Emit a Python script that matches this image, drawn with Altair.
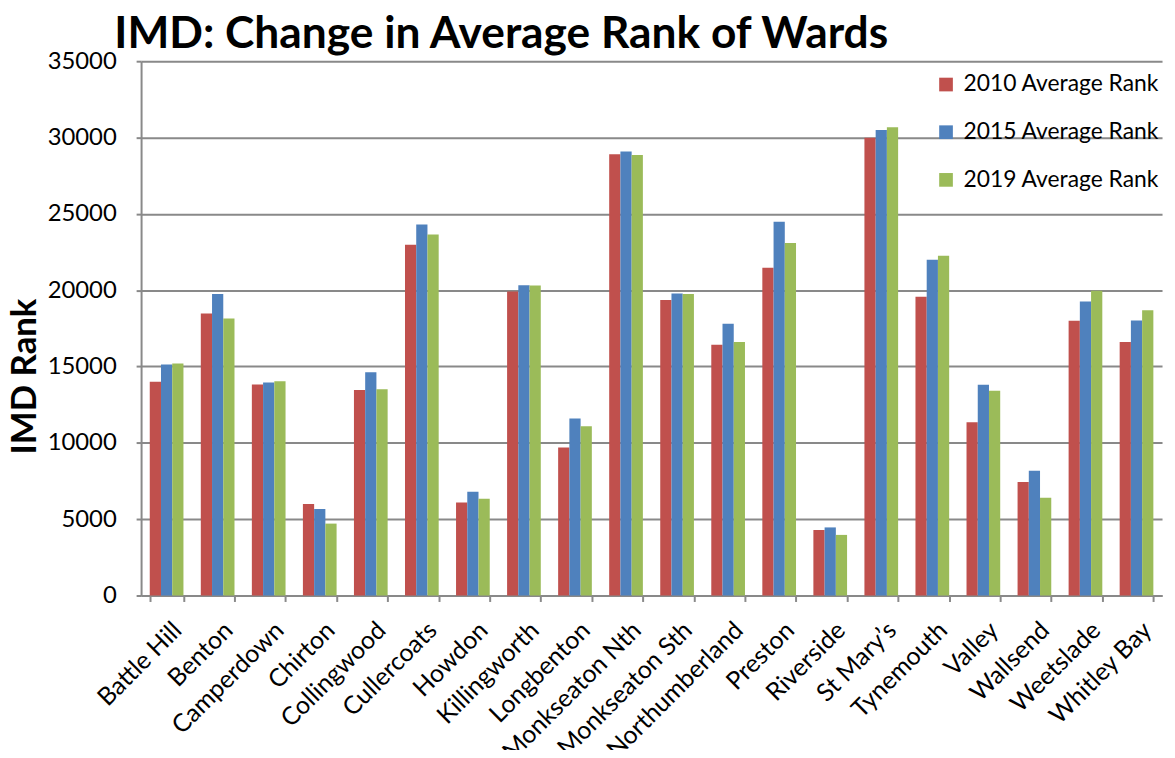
import altair as alt
import pandas as pd

wards = ["Battle Hill", "Benton", "Camperdown", "Chirton", "Collingwood", "Cullercoats",
         "Howdon", "Killingworth", "Longbenton", "Monkseaton Nth", "Monkseaton Sth",
         "Northumberland", "Preston", "Riverside", "St Mary\u2019s", "Tynemouth", "Valley",
         "Wallsend", "Weetslade", "Whitley Bay"]
rank_2010 = [14000, 18480, 13830, 5990, 13460, 22980, 6100, 19910, 9700, 28900,
             19360, 16430, 21470, 4290, 29990, 19570, 11350, 7430, 17990, 16600]
rank_2015 = [15130, 19750, 13950, 5660, 14620, 24300, 6800, 20330, 11600, 29080,
             19780, 17800, 24490, 4460, 30500, 22000, 13810, 8170, 19260, 18010]
rank_2019 = [15200, 18150, 14040, 4710, 13510, 23650, 6340, 20310, 11090, 28850,
             19750, 16600, 23090, 3970, 30680, 22260, 13420, 6410, 19960, 18680]
series = ["2010 Average Rank", "2015 Average Rank", "2019 Average Rank"]
colors = ["#C0504D", "#4F81BD", "#9BBB59"]
y_ticks = [0, 5000, 10000, 15000, 20000, 25000, 30000, 35000]

rows = []
for s, vals in zip(series, [rank_2010, rank_2015, rank_2019]):
    for w, v in zip(wards, vals):
        rows.append({"ward": w, "series": s, "rank": v})
df = pd.DataFrame(rows)

FONT = "Lato"
GRID = "#898989"

chart = alt.Chart(df).mark_bar().encode(
    x=alt.X("ward:N", sort=wards, title=None,
            scale=alt.Scale(paddingInner=0.34, paddingOuter=0.17),
            axis=alt.Axis(labelAngle=-45, labelFontSize=25, labelFont=FONT,
                          labelColor="black", labelAlign="right", labelBaseline="top",
                          labelOffset=2, labelPadding=16, labelLimit=0,
                          tickBand="extent", tickSize=6,
                          tickColor=GRID, tickWidth=2, domainColor=GRID,
                          domainWidth=2)),
    xOffset=alt.XOffset("series:N", sort=series),
    y=alt.Y("rank:Q", title="IMD Rank",
            scale=alt.Scale(domain=[0, 35000], nice=False),
            axis=alt.Axis(values=y_ticks, format="d", labelFontSize=24, labelFont=FONT,
                          labelColor="black", tickSize=5, tickColor=GRID, tickWidth=2,
                          domainColor=GRID, domainWidth=2, gridColor=GRID, gridWidth=2,
                          labelPadding=20, titleFontSize=35, titleFont=FONT,
                          titleFontWeight="bold", titleColor="black",
                          titleX=-117, titleY=317, titleBaseline="middle")),
    color=alt.Color("series:N", sort=series,
                    scale=alt.Scale(domain=series, range=colors),
                    legend=alt.Legend(title=None, orient="none", legendX=799, legendY=12,
                                      symbolType="square", symbolSize=190,
                                      symbolStrokeWidth=0, labelFontSize=23,
                                      labelFont=FONT, labelColor="black", labelLimit=0,
                                      rowPadding=24, labelOffset=6)),
).properties(
    width=1028, height=538,
    autosize=alt.AutoSizeParams(type="none"),
    padding={"left": 134, "top": 51, "right": 5, "bottom": 153},
    title=alt.TitleParams("IMD: Change in Average Rank of Wards", anchor="start",
                          frame="group", dx=-27, dy=8, offset=0, fontSize=44.6, font=FONT,
                          fontWeight="bold", color="black"),
).configure_view(stroke=None).configure_axis(grid=True).configure_axisX(grid=False)

chart.save("out.html", embed_options={"renderer": "svg", "actions": False})
